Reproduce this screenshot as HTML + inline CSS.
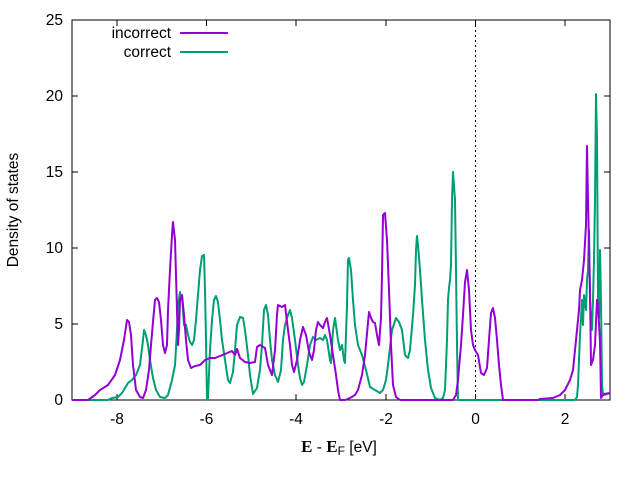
<!DOCTYPE html>
<html><head><meta charset="utf-8"><style>
body{margin:0;background:#fff}
svg{display:block;font-family:"Liberation Sans",sans-serif}
</style></head><body>
<svg width="640" height="480" viewBox="0 0 640 480">
<rect width="640" height="480" fill="#fff"/>
<g stroke="#000" stroke-width="1" fill="none">
<rect x="72" y="20" width="538" height="380"/>
<path d="M72 400h6M72 324h6M72 248h6M72 172h6M72 96h6M72 20h6M610 400h-6M610 324h-6M610 248h-6M610 172h-6M610 96h-6M610 20h-6
M117 400v-6M206.5 400v-6M296 400v-6M386 400v-6M475.5 400v-6M565 400v-6
M117 20v6M206.5 20v6M296 20v6M386 20v6M475.5 20v6M565 20v6"/>
<path d="M475.5 20V400" stroke-dasharray="2,3"/>
</g>
<g font-size="15.5" fill="#000" text-anchor="end">
<text x="63" y="405">0</text><text x="63" y="329">5</text><text x="63" y="253">10</text><text x="63" y="177">15</text><text x="63" y="101">20</text><text x="63" y="25">25</text>
</g>
<g font-size="15.5" fill="#000" text-anchor="middle">
<text x="117" y="424">-8</text><text x="206.5" y="424">-6</text><text x="296" y="424">-4</text><text x="386" y="424">-2</text><text x="475.5" y="424">0</text><text x="565" y="424">2</text>
</g>
<text x="339" y="452" font-size="15.5" text-anchor="middle"><tspan font-family="Liberation Serif" font-weight="bold" font-size="17">E</tspan> - <tspan font-family="Liberation Serif" font-weight="bold" font-size="17">E</tspan><tspan font-size="12" dy="3">F</tspan><tspan dy="-3"> [eV]</tspan></text>
<text transform="translate(18,210) rotate(-90)" font-size="15.5" text-anchor="middle">Density of states</text>
<text x="171" y="38" font-size="15.5" text-anchor="end">incorrect</text>
<text x="171" y="57" font-size="15.5" text-anchor="end">correct</text>
<path d="M180 33H228" stroke="#9400d3" stroke-width="2"/>
<path d="M180 52H228" stroke="#009e73" stroke-width="2"/>
<polyline fill="none" stroke="#009e73" stroke-width="2" stroke-linejoin="round" points="72,400 108,400 112,398 118,397 122,393 125,388 128,383 132,380 136,375 140,365 143,340 144,330 146,335 148,345 150,360 153,378 156,390 160,397 165,398 168,395 172,380 175,365 177,330 178,305 180,292 181,300 182,296 184,325 186,325 188,335 190,342 192,345 194,340 196,320 198,295 200,270 202,256 204,255 205,290 206,340 207,400 208,398 210,350 212,320 214,300 216,296 218,302 220,320 222,340 225,360 228,380 230,383 233,372 235,350 237,325 240,317 243,318 245,330 248,355 250,375 253,394 257,388 260,370 262,345 264,310 266,305 268,315 270,340 272,360 275,375 278,382 281,370 283,340 285,325 288,315 290,310 292,318 295,340 298,365 300,378 302,385 304,382 307,365 310,345 313,337 316,340 320,338 323,340 325,335 327,340 330,360 331,363 333,330 335,318 338,340 340,350 342,345 344,360 345,363 347,305 348,260 349,258 351,270 353,300 355,325 358,345 362,355 366,370 370,387 375,390 380,393 383,390 386,380 388,365 392,330 396,318 399,322 402,330 405,355 408,358 410,350 413,315 415,285 416,250 417,236 418,245 420,270 422,300 425,340 428,370 431,388 435,398 440,400 443,398 445,390 447,340 448,300 449,288 450,280 451,265 452,200 453,172 455,200 456,270 457,345 458,400 575,400 577,397 578,385 579,360 580,335 581,318 582,300 583,325 584,295 586,310 587,280 588,270 589,230 590,300 591,320 592,330 593,300 594,260 595,200 596,94 597,140 598,300 599,318 600,250 601,300 602,385 603,394 610,393"/>
<polyline fill="none" stroke="#9400d3" stroke-width="2" stroke-linejoin="round" points="72,400 88,400 95,395 100,390 108,385 115,375 120,360 124,340 127,320 129,322 131,335 133,365 136,390 140,397 143,398 146,390 149,370 151,345 153,322 155,300 157,298 159,302 161,320 163,345 165,353 167,345 168,310 170,270 172,235 173,222 175,240 176,275 177,310 178,345 179,330 180,300 182,295 184,315 186,340 188,360 191,368 195,366 200,365 205,360 210,358 215,358 220,356 225,354 232,351 235,355 237,349 240,358 245,362 250,363 255,362 257,347 260,345 265,348 268,365 270,370 272,375 275,350 277,315 278,305 282,307 285,305 288,330 290,345 292,365 294,372 297,360 300,340 303,327 306,335 309,352 312,360 314,350 316,330 318,322 320,325 323,328 325,322 327,318 330,335 333,355 336,375 338,390 340,400 345,400 350,398 355,395 358,390 362,375 365,355 369,312 371,318 373,322 375,323 377,335 379,345 381,318 382,275 383,215 385,213 387,240 389,290 391,345 393,385 396,397 400,400 453,400 456,395 458,380 461,345 463,315 465,282 467,270 469,290 471,330 473,345 475,350 478,355 481,373 484,375 487,368 489,340 491,313 493,308 495,318 497,340 499,365 501,385 503,400 538,400 540,399 553,398 560,395 565,390 570,380 573,370 575,350 577,330 579,310 580,290 582,280 584,260 586,225 587,146 588,200 590,290 591,365 593,360 595,345 597,300 598,305 600,342 601,398 603,395 610,393"/>
</svg>
</body></html>
